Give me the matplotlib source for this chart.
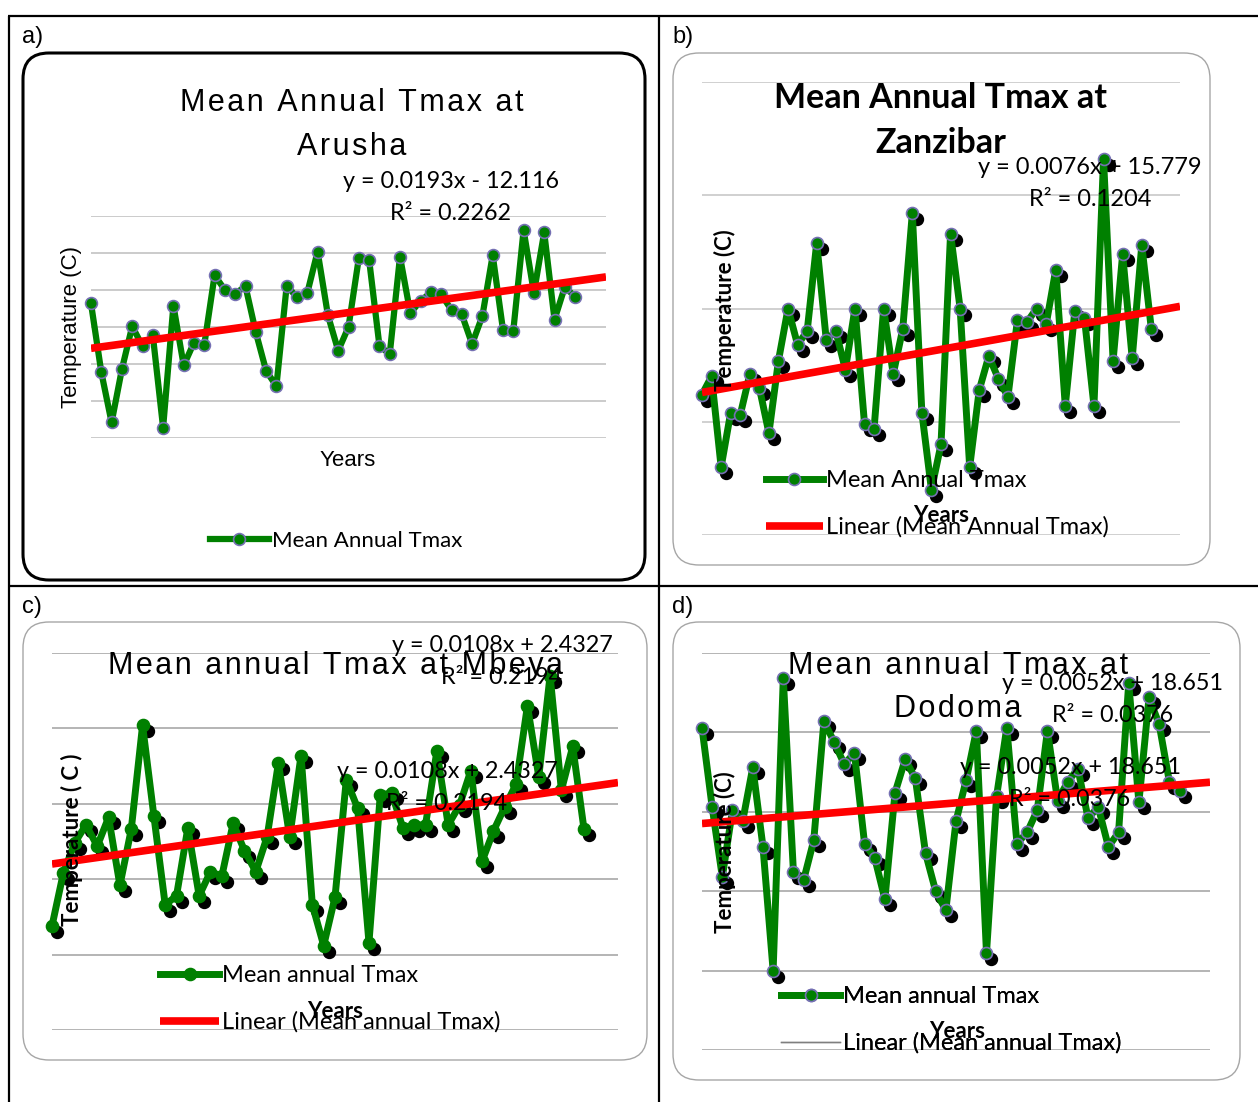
import matplotlib.pyplot as plt
import numpy as np
from matplotlib.patches import FancyBboxPatch
from matplotlib.lines import Line2D
from matplotlib.transforms import offset_copy

W, H = 1258, 1102

# mean annual Tmax (deg C), one value per year
arusha = [26.32, 25.39, 24.71, 25.43, 26.01, 25.74, 25.89, 24.64, 26.29, 25.48,
          25.79, 25.76, 26.70, 26.50, 26.45, 26.55, 25.93, 25.41, 25.20, 26.56,
          26.40, 26.46, 27.02, 26.16, 25.68, 26.00, 26.93, 26.91, 25.75, 25.63,
          26.95, 26.19, 26.35, 26.47, 26.44, 26.23, 26.17, 25.77, 26.15, 26.97,
          25.96, 25.95, 27.31, 26.46, 27.28, 26.10, 26.54, 26.41]
zanzibar = [30.62, 30.70, 30.30, 30.54, 30.53, 30.71, 30.65, 30.45, 30.77, 31.00,
            30.84, 30.90, 31.29, 30.86, 30.90, 30.73, 31.00, 30.49, 30.47, 31.00,
            30.71, 30.91, 31.42, 30.54, 30.20, 30.40, 31.33, 31.00, 30.30, 30.64,
            30.79, 30.69, 30.61, 30.95, 30.94, 31.00, 30.93, 31.17, 30.57, 30.99,
            30.96, 30.57, 31.66, 30.77, 31.24, 30.78, 31.28, 30.91]
mbeya = [23.19, 23.54, 23.74, 23.86, 23.72, 23.91, 23.46, 23.83, 24.52, 23.92,
         23.33, 23.39, 23.84, 23.39, 23.55, 23.52, 23.87, 23.69, 23.55, 23.78,
         24.27, 23.78, 24.32, 23.33, 23.06, 23.38, 24.16, 23.97, 23.08, 24.06,
         24.07, 23.84, 23.86, 23.86, 24.35, 23.86, 23.99, 24.22, 23.62, 23.82,
         23.98, 24.13, 24.65, 24.18, 24.85, 24.09, 24.38, 23.83]
dodoma = [29.53, 29.03, 28.59, 29.01, 28.94, 29.28, 28.78, 28.00, 29.84, 28.62,
          28.57, 28.82, 29.57, 29.44, 29.30, 29.37, 28.80, 28.71, 28.45, 29.12,
          29.33, 29.21, 28.74, 28.50, 28.38, 28.94, 29.20, 29.51, 28.11, 29.10,
          29.53, 28.80, 28.87, 29.01, 29.51, 29.07, 29.19, 29.27, 28.96, 29.03,
          28.78, 28.87, 29.81, 29.06, 29.72, 29.55, 29.19, 29.13]

first_year = {'arusha': 1960, 'zanzibar': 1954, 'mbeya': 1960, 'dodoma': 1976}

# linear trend: slope, intercept
fits = {'arusha': (0.0193, -12.116), 'zanzibar': (0.0076, 15.779),
        'mbeya': (0.0108, 2.4327), 'dodoma': (0.0052, 18.651)}
eq_text = {'arusha': ('y = 0.0193x - 12.116', 'R² = 0.2262'),
           'zanzibar': ('y = 0.0076x + 15.779', 'R² = 0.1204'),
           'mbeya': ('y = 0.0108x + 2.4327', 'R² = 0.2194'),
           'dodoma': ('y = 0.0052x + 18.651', 'R² = 0.0376')}

grid_levels = {'arusha': [24.5, 25.0, 25.5, 26.0, 26.5, 27.0, 27.5],
               'zanzibar': [30.0, 30.5, 31.0, 31.5, 32.0],
               'mbeya': [22.5, 23.0, 23.5, 24.0, 24.5, 25.0],
               'dodoma': [27.5, 28.0, 28.5, 29.0, 29.5, 30.0]}

CAL = ['Lato', 'DejaVu Sans']
ARIAL = ['Liberation Sans', 'DejaVu Sans']
GREEN = '#008000'
PURPLE = '#7570b3'

fig = plt.figure(figsize=(W / 100, H / 100), dpi=100)

bg = fig.add_axes([0, 0, 1, 1], label='bg', zorder=0)
fg = fig.add_axes([0, 0, 1, 1], label='fg', zorder=5)
for a in (bg, fg):
    a.set_xlim(0, W)
    a.set_ylim(H, 0)
    a.axis('off')
fg.patch.set_alpha(0)

# table frame
for xs, ys in [([8, W], [16, 16]), ([8, W], [586, 586]),
               ([9, 9], [16, H]), ([659, 659], [16, H])]:
    bg.plot(xs, ys, color='black', lw=1.6, solid_capstyle='butt')

for lab, (x, y) in zip('abcd', [(22, 37), (672, 37), (22, 607), (672, 607)]):
    fg.text(x, y, lab + ')', family=ARIAL, fontsize=17, va='center')

# chart boxes
boxes = [((23, 53, 645, 580), 'black', 2.2), ((673, 53, 1210, 565), '#a6a6a6', 1.0),
         ((23, 622, 647, 1060), '#a6a6a6', 1.0), ((673, 622, 1240, 1080), '#a6a6a6', 1.0)]
for (x0, y0, x1, y1), ec, lw in boxes:
    bg.add_patch(FancyBboxPatch((x0, y0), x1 - x0, y1 - y0,
                                boxstyle='round,pad=0,rounding_size=26',
                                fc='white', ec=ec, lw=lw))


def spaced(s):
    return '\u200a'.join(s)


def title(x, y, s):
    fg.text(x, y, spaced(s), family=ARIAL, fontsize=22, ha='center', va='center')


def equation(key, x, y, size=16.8):
    fg.text(x, y, eq_text[key][0], family=CAL, fontsize=size, ha='center', va='center')
    fg.text(x, y + 32, eq_text[key][1], family=CAL, fontsize=size, ha='center', va='center')


def legend(handles, labels, x, y, hl, size=17):
    leg = fg.legend(handles, labels, loc='center left', bbox_to_anchor=(x, y),
                    bbox_transform=fg.transData, frameon=False, numpoints=1,
                    borderpad=0, borderaxespad=0, handlelength=hl, handletextpad=0.12,
                    labelspacing=1.08, prop={'family': CAL, 'size': size})
    fg.add_artist(leg)


def panel(key, rect, gridc, edge, shadow, lw_line, ms):
    x0, y0, x1, y1 = rect
    ax = fig.add_axes([x0 / W, 1 - y1 / H, (x1 - x0) / W, (y1 - y0) / H], zorder=2)
    temps = np.array(globals()[key])
    start = first_year[key]
    yrs = np.arange(start, start + len(temps))
    levels = grid_levels[key]
    ax.set_xlim(start, start + 50)
    ax.set_ylim(levels[0], levels[-1])
    ax.set_yticks(levels)
    ax.set_xticks([])
    ax.grid(axis='y', color=gridc, lw=1.1)
    ax.tick_params(length=0, labelleft=False)
    for s in ax.spines.values():
        s.set_visible(False)
    ax.patch.set_alpha(0)
    if shadow:
        tr = offset_copy(ax.transData, fig=fig, x=5, y=-6, units='dots')
        ax.plot(yrs, temps, 'o', ms=ms, color='black', transform=tr, clip_on=False, zorder=2)
    line, = ax.plot(yrs, temps, color=GREEN, lw=lw_line, marker='o', ms=ms, mfc=GREEN,
                    mec=edge, mew=1.2, clip_on=False, zorder=3, solid_joinstyle='round')
    slope, icpt = fits[key]
    tx = np.array([start, start + 50])
    trend, = ax.plot(tx, slope * tx + icpt, color='#ff0000', lw=5.5,
                     solid_capstyle='butt', zorder=4)
    return ax, line, trend


# a) Arusha
ax_a, la, ta = panel('arusha', (91, 216, 606, 438), '#bdbdbd', PURPLE, False, 4.5, 8.5)
title(352, 103, 'Mean Annual Tmax at')
title(352, 147, 'Arusha')
equation('arusha', 451, 182)
fg.text(72, 327, 'Temperature (C)', family=ARIAL, fontsize=16, rotation=90, ha='center', va='center')
fg.text(348, 460, 'Years', family=ARIAL, fontsize=16, ha='center', va='center')
legend([la], ['Mean Annual Tmax'], 210, 541, 2.65, size=16)

# b) Zanzibar
ax_b, lb, tb = panel('zanzibar', (702, 82, 1180, 535), '#c4c4c4', PURPLE, True, 5, 8.6)
fg.text(941, 98, 'Mean Annual Tmax at', family=CAL, weight='bold', fontsize=24.5, ha='center', va='center')
fg.text(941, 143, 'Zanzibar', family=CAL, weight='bold', fontsize=24.5, ha='center', va='center')
equation('zanzibar', 1090, 167, size=17)
fg.text(725, 310, 'Temperature (C)', family=CAL, weight='bold', fontsize=16, rotation=90, ha='center', va='center')
fg.text(941, 515, 'Years', family=CAL, weight='bold', fontsize=16, ha='center', va='center')
legend([lb, tb], ['Mean Annual Tmax', 'Linear (Mean Annual Tmax)'], 766, 504, 2.4)

# c) Mbeya
ax_c, lc, tc = panel('mbeya', (52, 653, 618, 1030), '#a0a0a0', GREEN, True, 5, 8.6)
title(336, 666, 'Mean annual Tmax at Mbeya')
equation('mbeya', 502, 645)
equation('mbeya', 447, 772)
fg.text(72, 840, 'Temperature ( C )', family=CAL, weight='bold', fontsize=16, rotation=90, ha='center', va='center')
fg.text(335, 1012, 'Years', family=CAL, weight='bold', fontsize=16, ha='center', va='center')
legend([lc, tc], ['Mean annual Tmax', 'Linear (Mean annual Tmax)'], 160, 999, 2.5)

# d) Dodoma
ax_d, ld, td = panel('dodoma', (702, 653, 1210, 1050), '#a0a0a0', PURPLE, True, 5, 8.6)
title(958, 666, 'Mean annual Tmax at')
title(958, 709, 'Dodoma')
equation('dodoma', 1113, 683)
equation('dodoma', 1070, 767)
fg.text(725, 852, 'Temperature (C)', family=CAL, weight='bold', fontsize=16, rotation=90, ha='center', va='center')
fg.text(957, 1032, 'Years', family=CAL, weight='bold', fontsize=16, ha='center', va='center')
thin = Line2D([], [], color='#7f7f7f', lw=1)
legend([ld, thin], ['Mean annual Tmax', 'Linear (Mean annual Tmax)'], 781, 1020, 2.5)

fig.savefig('out.png', dpi=100)
